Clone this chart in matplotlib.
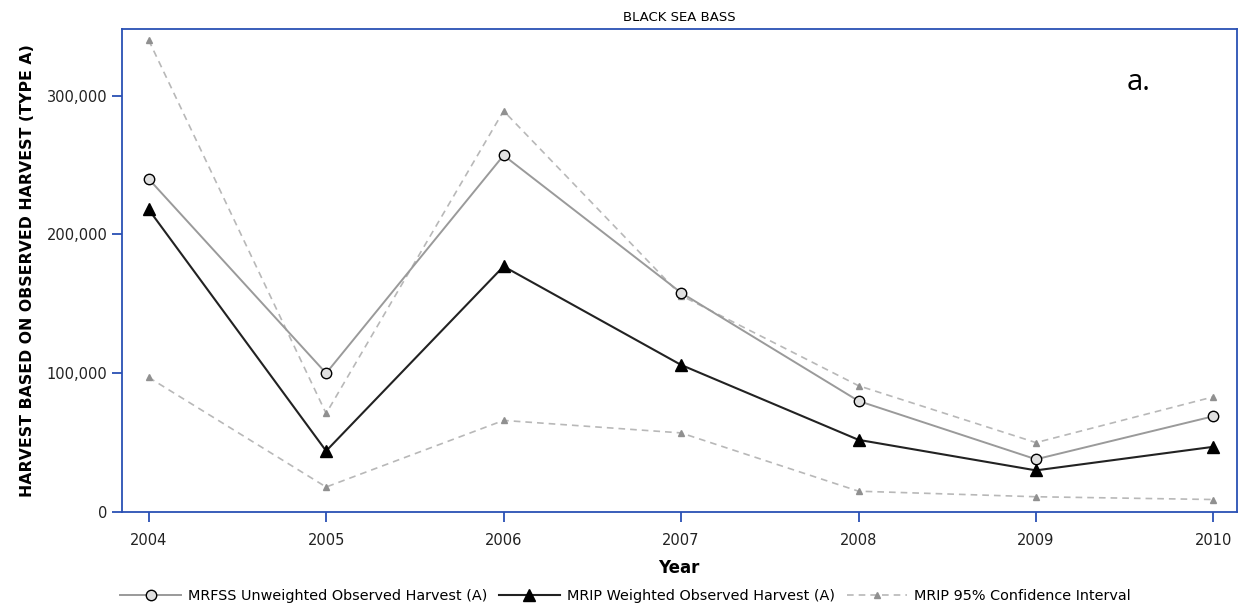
import matplotlib
matplotlib.use("Agg")
import matplotlib.pyplot as plt
from matplotlib.ticker import FuncFormatter

years = [2004, 2005, 2006, 2007, 2008, 2009, 2010]
mrfss = [240000, 100000, 257000, 158000, 80000, 38000, 69000]
mrip = [218000, 44000, 177000, 106000, 52000, 30000, 47000]
ci_upper = [340000, 71000, 289000, 156000, 91000, 50000, 83000]
ci_lower = [97000, 18000, 66000, 57000, 15000, 11000, 9000]

plt.rcParams['font.family'] = ['DejaVu Sans']
blue = '#2a50b4'

fig = plt.figure(figsize=(12.39, 6.11), dpi=100)
ax = fig.add_axes([0.0985, 0.162, 0.8995, 0.7905])

ax.plot(years, ci_upper, color='#b8b8b8', ls=(0, (4, 3)), lw=1.2,
        marker='^', ms=4, mfc='#909090', mec='#909090',
        label='MRIP 95% Confidence Interval', zorder=1)
ax.plot(years, ci_lower, color='#b8b8b8', ls=(0, (4, 3)), lw=1.2,
        marker='^', ms=4, mfc='#909090', mec='#909090', zorder=1)
ax.plot(years, mrfss, color='#9a9a9a', lw=1.4, marker='o', ms=7.5,
        mfc='#e0e0e0', mec='black', mew=1.0,
        label='MRFSS Unweighted Observed Harvest (A)', zorder=2)
ax.plot(years, mrip, color='#222222', lw=1.5, marker='^', ms=9,
        mfc='black', mec='black',
        label='MRIP Weighted Observed Harvest (A)', zorder=3)

ax.set_xlim(2003.85, 2010.13)
ax.set_ylim(0, 348000)
ax.set_xticks(years)
ax.set_yticks([0, 100000, 200000, 300000])
ax.yaxis.set_major_formatter(FuncFormatter(lambda v, p: f"{int(v):,}"))

for s in ax.spines.values():
    s.set_color(blue)
    s.set_linewidth(1.3)
ax.tick_params(axis='both', colors=blue, labelcolor='#222222',
               length=7, width=1.3, labelsize=10.5)
ax.tick_params(axis='x', pad=8)

ax.set_title('BLACK SEA BASS', fontsize=9.5, pad=6)
ax.set_xlabel('Year', fontsize=12, fontweight='bold', labelpad=8)
ax.set_ylabel('HARVEST BASED ON OBSERVED HARVEST (TYPE A)', fontsize=11.3,
              fontweight='bold', labelpad=8)
ax.text(0.912, 0.89, 'a.', transform=ax.transAxes, fontsize=21,
        family='Open Sans', ha='center', va='center')

h, l = ax.get_legend_handles_labels()
order = [1, 2, 0]
fig.legend([h[i] for i in order], [l[i] for i in order], loc='lower center',
           bbox_to_anchor=(0.505, -0.008), ncol=3, frameon=False, fontsize=10.4,
           handlelength=4.2, columnspacing=0.8, handletextpad=0.5)

fig.savefig('out.png', dpi=100)
